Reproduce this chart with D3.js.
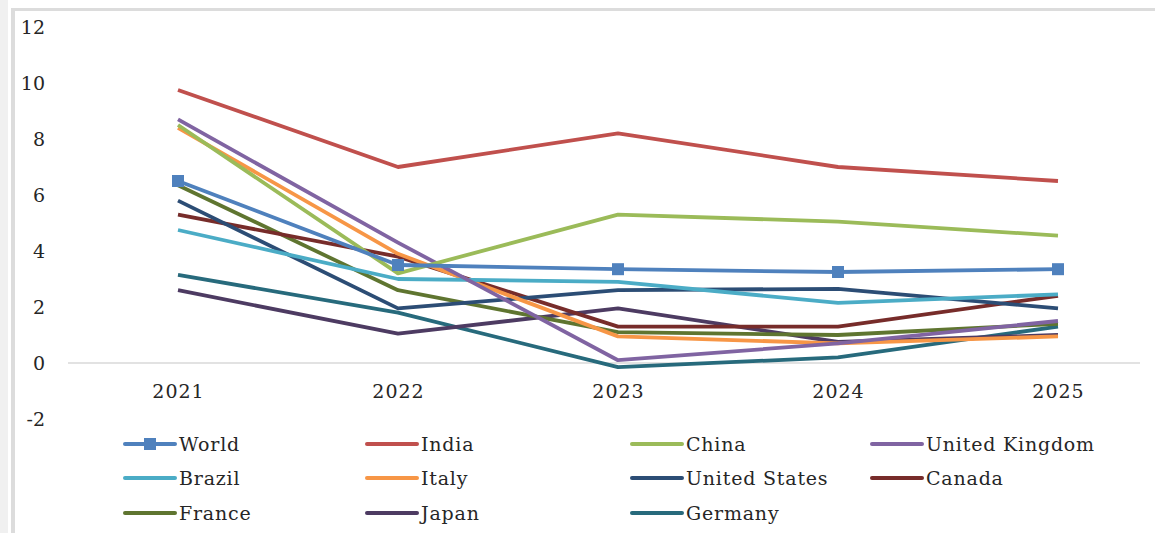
<!DOCTYPE html>
<html><head><meta charset="utf-8">
<script src="https://cdn.jsdelivr.net/npm/d3@7"></script>
<style>
html,body{margin:0;padding:0;background:#fff;}
svg{display:block;}
text{font-family:"DejaVu Serif","Liberation Serif",serif;fill:#262626;}
</style></head><body>
<svg id="c" width="1155" height="533"></svg>
<script>
const years = ["2021","2022","2023","2024","2025"];
const yTicks = [-2,0,2,4,6,8,10,12];
const seriesNames = ["World","India","China","United Kingdom","Brazil","Italy","United States","Canada","France","Japan","Germany"];
const seriesColors = ["#4F81BD","#C0504D","#9BBB59","#8064A2","#4BACC6","#F79646","#2C4D75","#772C2A","#5F7530","#4D3B62","#276A7C"];
const world   = [6.5, 3.5, 3.35, 3.25, 3.35];
const india   = [9.75, 7.0, 8.2, 7.0, 6.5];
const china   = [8.5, 3.2, 5.3, 5.05, 4.55];
const uk      = [8.7, 4.3, 0.1, 0.7, 1.5];
const brazil  = [4.75, 3.0, 2.9, 2.15, 2.45];
const italy   = [8.4, 3.9, 0.95, 0.7, 0.95];
const us      = [5.8, 1.95, 2.6, 2.65, 1.95];
const canada  = [5.3, 3.8, 1.3, 1.3, 2.4];
const france  = [6.35, 2.6, 1.1, 1.0, 1.4];
const japan   = [2.6, 1.05, 1.95, 0.75, 1.0];
const germany = [3.15, 1.8, -0.15, 0.2, 1.3];
const seriesValues = [world, india, china, uk, brazil, italy, us, canada, france, japan, germany];

const svg = d3.select("#c");
// frame
svg.append("rect").attr("x",0).attr("y",0).attr("width",8).attr("height",533).attr("fill","#f0f0f0");
svg.append("rect").attr("x",11).attr("y",9).attr("width",4).attr("height",524).attr("fill","#dcdcdc");
svg.append("rect").attr("x",11).attr("y",8).attr("width",1144).attr("height",3).attr("fill","#dcdcdc");

const x = d3.scalePoint().domain(years).range([178,1058]);
const y = d3.scaleLinear().domain([-2,12]).range([419,27]);

// zero line
svg.append("line").attr("x1",68).attr("x2",1140).attr("y1",y(0)).attr("y2",y(0))
  .attr("stroke","#d9d9d9").attr("stroke-width",1.5);

// y axis labels
const yAxis = d3.axisLeft(y).tickValues(yTicks).tickFormat(d=>String(d)).tickSize(0).tickPadding(0);
const gy = svg.append("g").attr("transform","translate(45,0)").call(yAxis);
gy.select(".domain").remove();
gy.selectAll("text").style("font-size","19px").attr("fill","#262626").attr("dy","0.35em");

// x axis labels
const xAxis = d3.axisBottom(x).tickSize(0).tickPadding(0);
const gx = svg.append("g").attr("transform","translate(0,383)").call(xAxis);
gx.select(".domain").remove();
gx.selectAll("text").style("font-size","19px").attr("fill","#262626").attr("dy","0.8em").style("letter-spacing","1px");

const line = d3.line().x((d,i)=>x(years[i])).y(d=>y(d));
// draw in reverse so World on top
for (let s = seriesNames.length-1; s >= 0; s--) {
  svg.append("path").datum(seriesValues[s]).attr("d",line)
    .attr("fill","none").attr("stroke",seriesColors[s]).attr("stroke-width",3.8)
    .attr("stroke-linejoin","round");
}
// world markers
svg.selectAll("rect.wm").data(world).enter().append("rect").attr("class","wm")
  .attr("x",(d,i)=>x(years[i])-6).attr("y",d=>y(d)-6).attr("width",12).attr("height",12)
  .attr("fill",seriesColors[0]);

// legend
const colX = [125,367,632,872];
const rowY = [444,478,513];
seriesNames.forEach((n,i)=>{
  const r = Math.floor(i/4), c = i%4;
  const g = svg.append("g").attr("transform",`translate(${colX[c]},${rowY[r]})`);
  g.append("line").attr("x1",0).attr("x2",50).attr("y1",0).attr("y2",0)
    .attr("stroke",seriesColors[i]).attr("stroke-width",4).attr("stroke-linecap","round");
  if (i===0) g.append("rect").attr("x",19).attr("y",-6).attr("width",12).attr("height",12).attr("fill",seriesColors[0]);
  g.append("text").attr("x",54).attr("y",0).attr("dy","0.35em").style("font-size","19px").style("letter-spacing","0.8px").text(n);
});
</script>
</body></html>
